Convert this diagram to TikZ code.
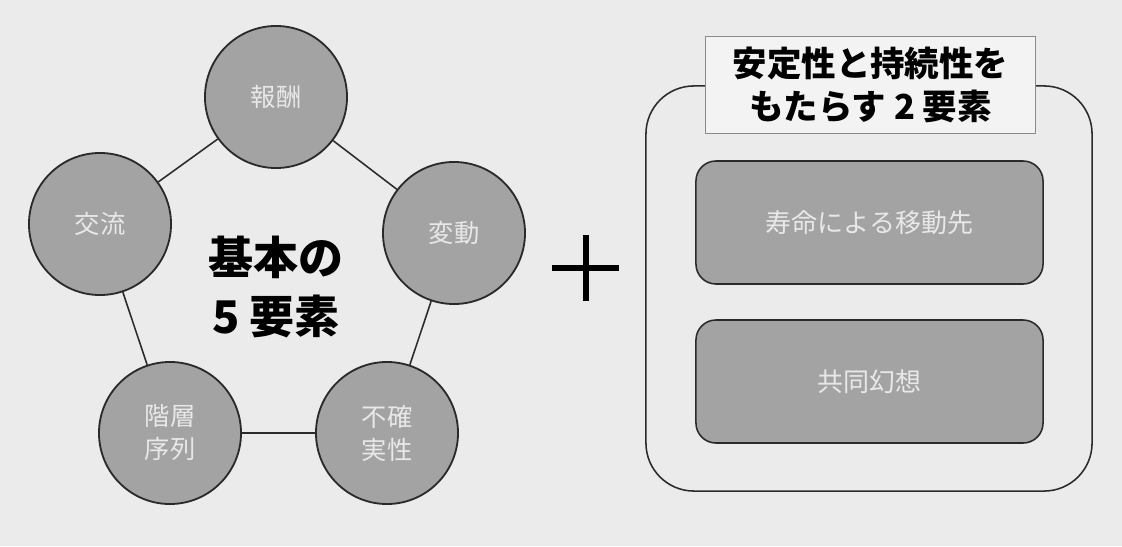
\documentclass[tikz,border=0pt]{standalone}
\usepackage{fontspec}
\setmainfont{Noto Sans CJK JP}
\usepackage{xcolor}
\usepackage{tikz}
\usetikzlibrary{shapes.geometric, positioning}

\definecolor{bggray}{HTML}{EBEBEB}
\definecolor{elemgray}{HTML}{A3A3A3}
\definecolor{elemtext}{HTML}{E8E8E8}
\definecolor{edgedark}{HTML}{2A2A2A}
\definecolor{titlefill}{HTML}{F3F3F3}
\definecolor{titleedge}{HTML}{8A8A8A}

\begin{document}
\begin{tikzpicture}[
    x=0.025cm, y=-0.025cm,
    elem/.style={circle, draw=edgedark, line width=1.3pt, fill=elemgray, minimum size=3.55cm, inner sep=0pt, align=center, text=elemtext, font=\fontsize{18}{23.5}\selectfont},
    link/.style={draw=edgedark, line width=1.1pt},
    panel/.style={rectangle, rounded corners=1.2cm, draw=edgedark, line width=1.1pt, fill=bggray, minimum width=11.15cm, minimum height=10.125cm},
    heading/.style={rectangle, draw=titleedge, line width=0.7pt, fill=titlefill, minimum width=8.225cm, minimum height=2.4cm, align=center, font=\bfseries\fontsize{24.5}{30.5}\selectfont},
    factor/.style={rectangle, rounded corners=0.5cm, draw=edgedark, line width=1.1pt, fill=elemgray, minimum width=8.675cm, minimum height=3.075cm, text=elemtext, font=\fontsize{18.5}{23}\selectfont}
]

% background
\fill[bggray] (0,0) rectangle (1122,546);

% five basic elements
\node[elem] (reward) at (276,97) {報酬};
\node[elem] (change) at (454,233) {変動};
\node[elem] (uncertain) at (387,433) {不確\\実性};
\node[elem] (hierarchy) at (170,433) {階層\\序列};
\node[elem] (exchange) at (100,224) {交流};

\draw[link] (reward) -- (change);
\draw[link] (change) -- (uncertain);
\draw[link] (uncertain) -- (hierarchy);
\draw[link] (hierarchy) -- (exchange);
\draw[link] (exchange) -- (reward);

\node[align=center, font=\bfseries\fontsize{32}{42.5}\selectfont] (basic) at (276,287) {基本の\\5 要素};

% plus sign
\draw[line width=4.2pt] (552,268) -- (619,268);
\draw[line width=4.2pt] (586,235) -- (586,301);

% two additional elements
\node[panel] (frame) at (869,288.5) {};
\node[heading] (title) at (870.5,85) {安定性と持続性を\\もたらす 2 要素};
\node[factor] (lifespan) at (869.5,222.5) {寿命による移動先};
\node[factor] (illusion) at (869.5,381.5) {共同幻想};

\end{tikzpicture}
\end{document}
